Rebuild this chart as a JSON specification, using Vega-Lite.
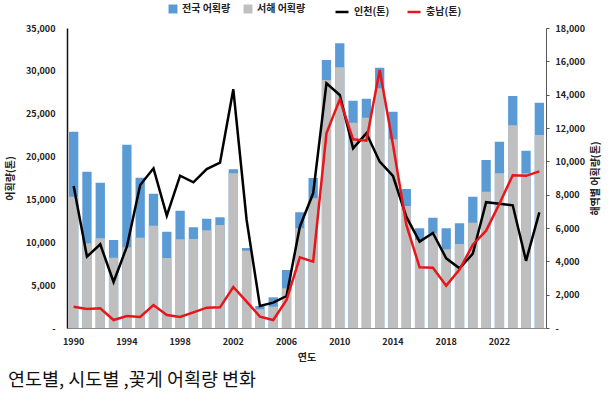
{
  "$schema": "https://vega.github.io/schema/vega-lite/v6.json",
  "width": 479,
  "height": 300,
  "autosize": {"type": "none"},
  "padding": {"left": 67, "top": 28, "right": 64, "bottom": 88},
  "background": "white",
  "config": {
    "view": {"stroke": null},
    "font": "Noto Sans CJK KR",
    "axis": {
      "grid": false,
      "labelFont": "Noto Sans CJK KR",
      "labelFontWeight": "bold",
      "labelFontSize": 9,
      "labelColor": "#222",
      "labelOverlap": false,
      "titleFont": "Noto Sans CJK KR",
      "titleFontWeight": "bold",
      "titleFontSize": 10,
      "titleColor": "#222"
    },
    "legend": {
      "labelFont": "Noto Sans CJK KR",
      "labelFontWeight": "bold",
      "labelFontSize": 10,
      "labelColor": "#222"
    }
  },
  "title": {
    "text": "연도별, 시도별 ,꽃게 어획량 변화",
    "orient": "bottom",
    "anchor": "start",
    "frame": "group",
    "dx": -59,
    "offset": 9,
    "font": "Noto Sans CJK KR",
    "fontSize": 18.5,
    "fontWeight": "normal",
    "color": "#111"
  },
  "data": {
    "values": [
      {"year": 1990, "national": 22900, "west": 15320, "incheon": 8520, "chungnam": 1280},
      {"year": 1991, "national": 18240, "west": 9880, "incheon": 4280, "chungnam": 1140},
      {"year": 1992, "national": 16950, "west": 10460, "incheon": 5020, "chungnam": 1180},
      {"year": 1993, "national": 10270, "west": 8200, "incheon": 2760, "chungnam": 480},
      {"year": 1994, "national": 21390, "west": 9410, "incheon": 4880, "chungnam": 720},
      {"year": 1995, "national": 17540, "west": 10540, "incheon": 8580, "chungnam": 660},
      {"year": 1996, "national": 15670, "west": 11940, "incheon": 9580, "chungnam": 1380},
      {"year": 1997, "national": 11240, "west": 8170, "incheon": 6740, "chungnam": 780},
      {"year": 1998, "national": 13690, "west": 10340, "incheon": 9140, "chungnam": 660},
      {"year": 1999, "national": 11740, "west": 10380, "incheon": 8740, "chungnam": 940},
      {"year": 2000, "national": 12740, "west": 11400, "incheon": 9540, "chungnam": 1220},
      {"year": 2001, "national": 12930, "west": 12020, "incheon": 9920, "chungnam": 1240},
      {"year": 2002, "national": 18510, "west": 18040, "incheon": 14320, "chungnam": 2460},
      {"year": 2003, "national": 9330, "west": 9020, "incheon": 6480, "chungnam": 1580},
      {"year": 2004, "national": 2570, "west": 2180, "incheon": 1320, "chungnam": 680},
      {"year": 2005, "national": 3580, "west": 2490, "incheon": 1520, "chungnam": 480},
      {"year": 2006, "national": 6770, "west": 4630, "incheon": 1920, "chungnam": 1680},
      {"year": 2007, "national": 13490, "west": 11630, "incheon": 6080, "chungnam": 4240},
      {"year": 2008, "national": 17500, "west": 15130, "incheon": 8080, "chungnam": 3980},
      {"year": 2009, "national": 31270, "west": 28930, "incheon": 14680, "chungnam": 11680},
      {"year": 2010, "national": 33210, "west": 30410, "incheon": 13980, "chungnam": 13720},
      {"year": 2011, "national": 26520, "west": 23960, "incheon": 10780, "chungnam": 11320},
      {"year": 2012, "national": 26760, "west": 24540, "incheon": 11680, "chungnam": 11240},
      {"year": 2013, "national": 30370, "west": 27960, "incheon": 9980, "chungnam": 15480},
      {"year": 2014, "national": 25240, "west": 22010, "incheon": 9120, "chungnam": 11000},
      {"year": 2015, "national": 16220, "west": 14230, "incheon": 6680, "chungnam": 6200},
      {"year": 2016, "national": 11630, "west": 10270, "incheon": 5180, "chungnam": 3640},
      {"year": 2017, "national": 12870, "west": 11040, "incheon": 5700, "chungnam": 3620},
      {"year": 2018, "national": 11630, "west": 9180, "incheon": 4180, "chungnam": 2540},
      {"year": 2019, "national": 12210, "west": 9800, "incheon": 3580, "chungnam": 3500},
      {"year": 2020, "national": 15320, "west": 12290, "incheon": 4460, "chungnam": 5000},
      {"year": 2021, "national": 19600, "west": 15910, "incheon": 7550, "chungnam": 5840},
      {"year": 2022, "national": 21740, "west": 18040, "incheon": 7460, "chungnam": 7450},
      {"year": 2023, "national": 27070, "west": 23640, "incheon": 7360, "chungnam": 9170},
      {"year": 2024, "national": 20690, "west": 18040, "incheon": 4030, "chungnam": 9130},
      {"year": 2025, "national": 26290, "west": 22520, "incheon": 6940, "chungnam": 9400}
    ]
  },
  "encoding": {
    "x": {
      "field": "year",
      "type": "ordinal",
      "scale": {"paddingInner": 0.3, "paddingOuter": 0.15},
      "axis": {
        "values": [1990, 1994, 1998, 2002, 2006, 2010, 2014, 2018, 2022],
        "labelAngle": 0,
        "ticks": false,
        "domainColor": "#888",
        "domainWidth": 1,
        "labelPadding": 9,
        "title": "연도",
        "titlePadding": 6
      }
    }
  },
  "layer": [
    {
      "layer": [
        {
          "mark": {"type": "bar"},
          "encoding": {
            "y": {
              "field": "national",
              "type": "quantitative",
              "title": "어획량(톤)",
              "scale": {"domain": [0, 35000], "nice": false},
              "axis": {
                "values": [0, 5000, 10000, 15000, 20000, 25000, 30000, 35000],
                "labelExpr": "datum.value == 0 ? '-' : format(datum.value, ',')",
                "labelOverlap": false,
                "ticks": false,
                "domainColor": "#111",
                "domainWidth": 1.5,
                "labelPadding": 12,
                "titlePadding": 10
              }
            },
            "fill": {
              "datum": "전국 어획량",
              "scale": {"domain": ["전국 어획량", "서해 어획량"], "range": ["#5B9BD5", "#BFBFBF"]},
              "legend": {
                "orient": "none",
                "legendX": 101,
                "legendY": -24,
                "direction": "horizontal",
                "title": null,
                "symbolType": "square",
                "symbolSize": 80,
                "symbolStrokeWidth": 0,
                "columnPadding": 12
              }
            }
          }
        },
        {
          "mark": {"type": "bar"},
          "encoding": {
            "y": {
              "field": "west",
              "type": "quantitative",
              "title": "어획량(톤)"
            },
            "fill": {"datum": "서해 어획량"}
          }
        }
      ]
    },
    {
      "encoding": {
        "y": {
          "type": "quantitative",
          "title": "해역별 어획량(톤)",
          "scale": {"domain": [0, 18000], "nice": false},
          "axis": {
            "orient": "right",
            "values": [0, 2000, 4000, 6000, 8000, 10000, 12000, 14000, 16000, 18000],
            "labelExpr": "datum.value == 0 ? '-' : format(datum.value, ',')",
            "labelOverlap": false,
            "labelSeparation": 0,
            "labelBound": false,
            "tickSize": 3,
            "tickColor": "#555",
            "domainColor": "#555",
            "labelPadding": 6,
            "titleAngle": 270,
            "titlePadding": 16
          }
        }
      },
      "layer": [
        {
          "mark": {"type": "line", "strokeWidth": 2.5},
          "encoding": {
            "y": {
              "field": "incheon",
              "type": "quantitative",
              "title": "해역별 어획량(톤)",
              "scale": {"domain": [0, 18000], "nice": false},
              "axis": {
                "orient": "right",
                "values": [0, 2000, 4000, 6000, 8000, 10000, 12000, 14000, 16000, 18000],
                "labelExpr": "datum.value == 0 ? '-' : format(datum.value, ',')",
                "labelOverlap": false,
                "labelSeparation": 0,
                "labelBound": false,
                "tickSize": 3,
                "tickColor": "#555",
                "domainColor": "#555",
                "labelPadding": 6,
                "titleAngle": 270,
                "titlePadding": 16
              }
            },
            "stroke": {
              "datum": "인천(톤)",
              "scale": {"domain": ["인천(톤)", "충남(톤)"], "range": ["#000000", "#E8161B"]},
              "legend": {
                "orient": "none",
                "legendX": 267,
                "legendY": -24,
                "direction": "horizontal",
                "title": null,
                "symbolType": "stroke",
                "symbolSize": 169,
                "symbolStrokeWidth": 2.5,
                "columnPadding": 12
              }
            }
          }
        },
        {
          "mark": {"type": "line", "strokeWidth": 2.5},
          "encoding": {
            "y": {
              "field": "chungnam",
              "type": "quantitative",
              "title": "해역별 어획량(톤)",
              "scale": {"domain": [0, 18000], "nice": false},
              "axis": {
                "orient": "right",
                "values": [0, 2000, 4000, 6000, 8000, 10000, 12000, 14000, 16000, 18000],
                "labelExpr": "datum.value == 0 ? '-' : format(datum.value, ',')",
                "labelOverlap": false,
                "labelSeparation": 0,
                "labelBound": false,
                "tickSize": 3,
                "tickColor": "#555",
                "domainColor": "#555",
                "labelPadding": 6,
                "titleAngle": 270,
                "titlePadding": 16
              }
            },
            "stroke": {"datum": "충남(톤)"}
          }
        }
      ]
    }
  ],
  "resolve": {"scale": {"y": "independent"}}
}
